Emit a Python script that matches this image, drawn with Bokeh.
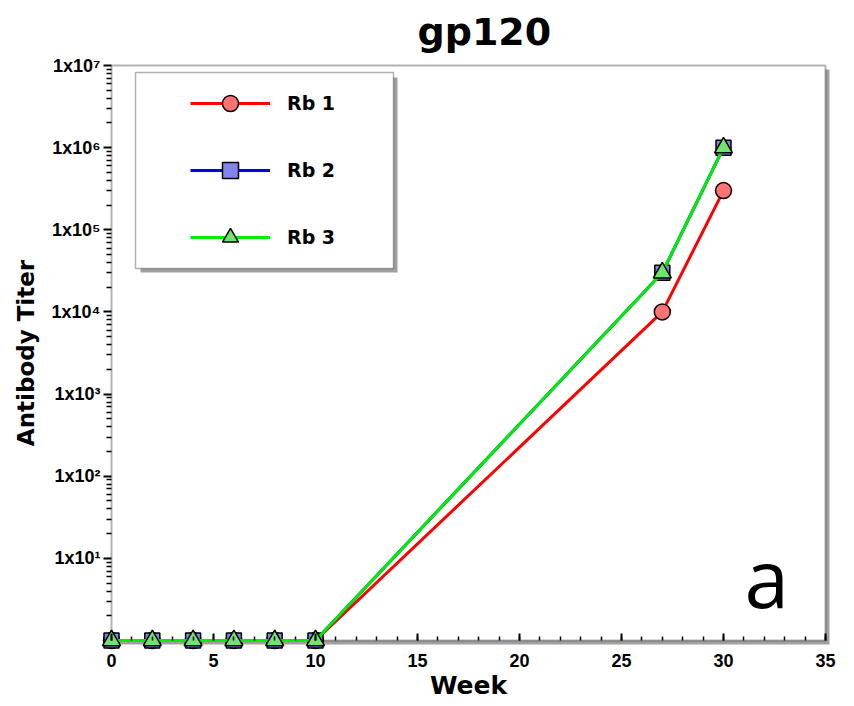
import math
from bokeh.plotting import figure
from bokeh.models import (FixedTicker, Legend, LegendItem, BoxAnnotation, Label,
                          LinearAxis, LogAxis)
from bokeh.embed import file_html
from bokeh.resources import INLINE

# ---- data ----
weeks = [0, 2, 4, 6, 8, 10, 27, 30]
rb1 = [1, 1, 1, 1, 1, 1, 1e4, 3e5]
rb2 = [1, 1, 1, 1, 1, 1, 3e4, 1e6]
rb3 = [1, 1, 1, 1, 1, 1, 3e4, 1e6]
series_names = ["Rb 1", "Rb 2", "Rb 3"]
x_ticks = [0, 5, 10, 15, 20, 25, 30, 35]
x_tick_labels = ["0", "5", "10", "15", "20", "25", "30", "35"]
y_ticks = [1e1, 1e2, 1e3, 1e4, 1e5, 1e6, 1e7]
y_tick_labels = ["1x10\u00b9", "1x10\u00b2", "1x10\u00b3", "1x10\u2074",
                 "1x10\u2075", "1x10\u2076", "1x10\u2077"]

X0, X1 = 0, 35
Y0, Y1 = 1, 1e7

# ---- layout (pixels) ----
PW, PH = 714, 575        # plotting box size
PAD = 10                 # extra frame so edge markers are not clipped
FW, FH = PW + 2 * PAD, PH + 2 * PAD
FL, FT = 101, 55         # frame left / top
FONT = "Liberation Sans"
HFONT = "DejaVu Sans"

px_per_x = PW / (X1 - X0)
dec_px = PH / (math.log10(Y1) - math.log10(Y0))
xr = (X0 - PAD / px_per_x, X1 + PAD / px_per_x)
yr = (10 ** (math.log10(Y0) - PAD / dec_px), 10 ** (math.log10(Y1) + PAD / dec_px))

p = figure(frame_width=FW, frame_height=FH, x_range=xr, y_range=yr,
           y_axis_type="log", output_backend="svg", toolbar_location=None,
           min_border_left=FL, min_border_right=17, min_border_top=FT,
           min_border_bottom=52, background_fill_color="white",
           border_fill_color="white")

p.title.text = "gp120"
p.title.text_font = HFONT
p.title.text_font_size = "38px"
p.title.text_font_style = "bold"
p.title.text_color = "black"
p.title.align = "left"
p.title.offset = 316
p.title.standoff = 4

p.grid.visible = False
p.outline_line_color = None


def sbox(l, r, b, t, **kw):
    return BoxAnnotation(left=l, right=r, bottom=b, top=t,
                         left_units="screen", right_units="screen",
                         top_units="screen", bottom_units="screen", **kw)


# plotting box shadow, background and border
p.add_layout(sbox(PAD + 4, PAD + PW + 4, PAD - 4, PAD + PH - 4,
                  fill_color="#a0a0a0", fill_alpha=1, line_color=None, level="underlay"))
p.add_layout(sbox(PAD, PAD + PW, PAD, PAD + PH,
                  fill_color="white", fill_alpha=1, line_color=None, level="underlay"))
p.add_layout(BoxAnnotation(left=X0, right=X1, bottom=Y0, top=Y1,
                           fill_alpha=0, line_color="black", line_width=2,
                           level="underlay"))

# ---- label axes (at the frame edges, labels only) ----
xa = p.xaxis[0]
xa.ticker = FixedTicker(ticks=x_ticks)
xa.major_label_overrides = dict(zip(x_ticks, x_tick_labels))
xa.axis_line_color = None
xa.major_tick_line_color = None
xa.minor_tick_line_color = None
xa.major_tick_in = 0
xa.major_tick_out = 0
xa.major_label_text_font = FONT
xa.major_label_text_font_style = "bold"
xa.major_label_text_font_size = "18px"
xa.major_label_text_color = "black"
xa.major_label_standoff = 3
xa.axis_label = "Week"
xa.axis_label_text_font = HFONT
xa.axis_label_text_font_style = "bold"
xa.axis_label_text_font_size = "25px"
xa.axis_label_text_color = "black"
xa.axis_label_standoff = 1

ya = p.yaxis[0]
ya.ticker = FixedTicker(ticks=y_ticks)
ya.major_label_overrides = dict(zip(y_ticks, y_tick_labels))
ya.axis_line_color = None
ya.major_tick_line_color = None
ya.minor_tick_line_color = None
ya.major_tick_in = 0
ya.major_tick_out = 0
ya.major_label_text_font = FONT
ya.major_label_text_font_style = "bold"
ya.major_label_text_font_size = "18px"
ya.major_label_text_color = "black"
ya.major_label_standoff = 1
ya.axis_label = "Antibody Titer"
ya.axis_label_text_font = HFONT
ya.axis_label_text_font_style = "bold"
ya.axis_label_text_font_size = "23px"
ya.axis_label_text_color = "black"
ya.axis_label_standoff = 10

# ---- tick axes (at the data origin, ticks only) ----
blank_x = {t: " " for t in x_ticks}
blank_y = {t: " " for t in y_ticks}
xt = LinearAxis(fixed_location=Y0,
                ticker=FixedTicker(ticks=x_ticks, minor_ticks=list(range(X0, X1 + 1))),
                major_label_overrides=blank_x,
                axis_line_color=None, major_tick_in=7, major_tick_out=0,
                minor_tick_in=4, minor_tick_out=0, major_tick_line_width=2,
                minor_tick_line_width=1.5, major_label_text_font_size="2px",
                major_label_text_alpha=0, major_label_standoff=0)
p.add_layout(xt, "below")

yt = LogAxis(fixed_location=X0,
             ticker=FixedTicker(ticks=y_ticks,
                                minor_ticks=[m * 10 ** k for k in range(0, 7) for m in range(2, 10)]),
             major_label_overrides=blank_y,
             axis_line_color=None, major_tick_in=0, major_tick_out=8,
             minor_tick_in=0, minor_tick_out=5, major_tick_line_width=2,
             minor_tick_line_width=1.5, major_label_text_font_size="2px",
             major_label_text_alpha=0, major_label_standoff=0)
p.add_layout(yt, "left")

# ---- series ----
styles = [
    dict(data=rb1, color="#ff0000", marker="circle", fill="#ff7373", size=16),
    dict(data=rb2, color="#0000ee", marker="square", fill="#8484ee", size=15),
    dict(data=rb3, color="#00ee00", marker="triangle", fill="#6ee66e", size=18),
]
items = []
for name, st in zip(series_names, styles):
    ln = p.line(weeks, st["data"], line_color=st["color"], line_width=3)
    mk = p.scatter(weeks, st["data"], marker=st["marker"], size=st["size"],
                   fill_color=st["fill"], line_color="black", line_width=1.5)
    items.append(LegendItem(label=name, renderers=[ln, mk]))

# ---- legend box with shadow (frame coords, y up) ----
p.add_layout(sbox(39, 296, 378, 573,
                  fill_color="#a0a0a0", fill_alpha=1, line_color=None))
p.add_layout(sbox(34, 292, 382, 578,
                  fill_color="white", fill_alpha=1, line_color="black",
                  line_width=1.5))

legend = Legend(items=items, location=(89, 393), padding=0, spacing=27,
                glyph_width=80, glyph_height=40, label_height=40,
                label_standoff=17, label_text_font=HFONT,
                label_text_font_style="bold", label_text_font_size="19px",
                label_text_color="black",
                border_line_color=None, background_fill_alpha=0)
p.add_layout(legend)

p.add_layout(Label(x=643, y=74, x_units="screen", y_units="screen", text="a",
                   text_font="Open Sans", text_font_size="80px",
                   text_baseline="alphabetic", text_color="black"))

open("out.html", "w").write(file_html(p, INLINE))
